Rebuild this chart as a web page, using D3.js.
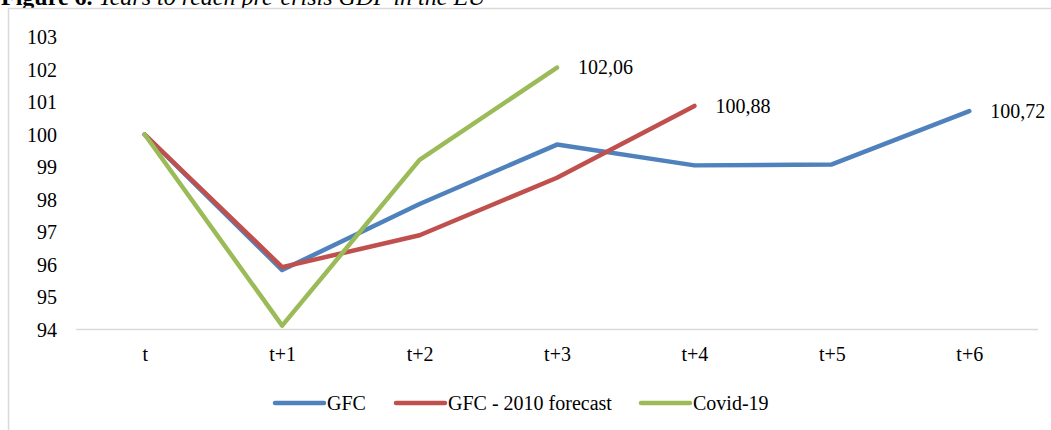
<!DOCTYPE html>
<html>
<head>
<meta charset="utf-8">
<script src="https://cdn.jsdelivr.net/npm/d3@7"></script>
<style>
  html, body { margin: 0; padding: 0; background: #fff; }
  svg { display: block; font-family: "Liberation Serif", "Times New Roman", serif; }
</style>
</head>
<body>
<svg id="chart" width="1051" height="430"></svg>
<script>
// Periods after the start of each crisis
const periods = ["t", "t+1", "t+2", "t+3", "t+4", "t+5", "t+6"];
const yTicks = [94, 95, 96, 97, 98, 99, 100, 101, 102, 103];

// GDP index (pre-crisis level = 100)
const gfc = [100, 95.83, 97.86, 99.69, 99.05, 99.08, 100.72];
const gfc2010 = [100, 95.92, 96.9, 98.67, 100.88];
const covid = [100, 94.12, 99.22, 102.06];

const seriesNames = ["GFC", "GFC - 2010 forecast", "Covid-19"];
const seriesColors = ["#4F81BD", "#C0504D", "#9BBB59"];
const seriesValues = [gfc, gfc2010, covid];

const svg = d3.select("#chart");

// Title (top of the page, partly above the frame)
const title = svg.append("text").attr("x", 1).attr("y", 4.5).attr("font-size", 24).attr("fill", "#000");
title.append("tspan").attr("font-weight", "bold").text("Figure 6.");
title.append("tspan").attr("font-style", "italic").text(" Years to reach pre-crisis GDP in the EU");

// Chart frame
svg.append("rect")
  .attr("x", 8.5).attr("y", 8.5)
  .attr("width", 1100).attr("height", 500)
  .attr("fill", "#fff")
  .attr("stroke", "#d9d9d9").attr("stroke-width", 1.5);

const plot = { left: 76, right: 1038, top: 37, bottom: 329.5 };

const x = d3.scalePoint()
  .domain(periods)
  .range([plot.left, plot.right])
  .padding(0.5);

const y = d3.scaleLinear()
  .domain([94, 103])
  .range([plot.bottom, plot.top]);

// Y axis labels
const yAxis = d3.axisLeft(y).tickValues(yTicks).tickSize(0).tickPadding(0).tickFormat(d3.format("d"));
const gy = svg.append("g").attr("transform", "translate(57,0)").call(yAxis);
gy.select(".domain").remove();
gy.selectAll("text")
  .attr("font-family", "Liberation Serif, Times New Roman, serif")
  .attr("font-size", 20).attr("fill", "#000").attr("dy", "0.34em");

// X axis: baseline and category labels
const xAxis = d3.axisBottom(x).tickSize(0).tickPadding(0);
const gx = svg.append("g").attr("transform", `translate(0,${plot.bottom})`).call(xAxis);
gx.select(".domain").remove();
gx.append("line")
  .attr("x1", plot.left).attr("x2", plot.right)
  .attr("y1", 0).attr("y2", 0)
  .attr("stroke", "#d9d9d9").attr("stroke-width", 1.5);
gx.selectAll(".tick text")
  .attr("font-family", "Liberation Serif, Times New Roman, serif")
  .attr("font-size", 20).attr("fill", "#000")
  .attr("dy", 0).attr("y", 31);

// Series lines
const line = d3.line()
  .x((d, i) => x(periods[i]))
  .y(d => y(d));

seriesValues.forEach((vals, k) => {
  svg.append("path")
    .datum(vals)
    .attr("d", line)
    .attr("fill", "none")
    .attr("stroke", seriesColors[k])
    .attr("stroke-width", 4.5)
    .attr("stroke-linejoin", "round")
    .attr("stroke-linecap", "round");
});

// End-point value labels
const fmt = v => d3.format(".2f")(v).replace(".", ",");
seriesValues.forEach((vals, k) => {
  const i = vals.length - 1;
  svg.append("text")
    .attr("x", x(periods[i]) + 21)
    .attr("y", y(vals[i]))
    .attr("dy", "0.34em")
    .attr("font-size", 20).attr("fill", "#000")
    .text(fmt(vals[i]));
});

// Legend
const legendItems = [
  { name: seriesNames[0], color: seriesColors[0], x: 273 },
  { name: seriesNames[1], color: seriesColors[1], x: 394 },
  { name: seriesNames[2], color: seriesColors[2], x: 639 }
];
const lg = svg.append("g").attr("transform", "translate(0,403)");
legendItems.forEach(it => {
  lg.append("line")
    .attr("x1", it.x + 2).attr("x2", it.x + 51)
    .attr("y1", 0).attr("y2", 0)
    .attr("stroke", it.color).attr("stroke-width", 4.5)
    .attr("stroke-linecap", "round");
  lg.append("text")
    .attr("x", it.x + 54).attr("y", 0).attr("dy", "0.34em")
    .attr("font-size", 20).attr("fill", "#000")
    .text(it.name);
});
</script>
</body>
</html>
